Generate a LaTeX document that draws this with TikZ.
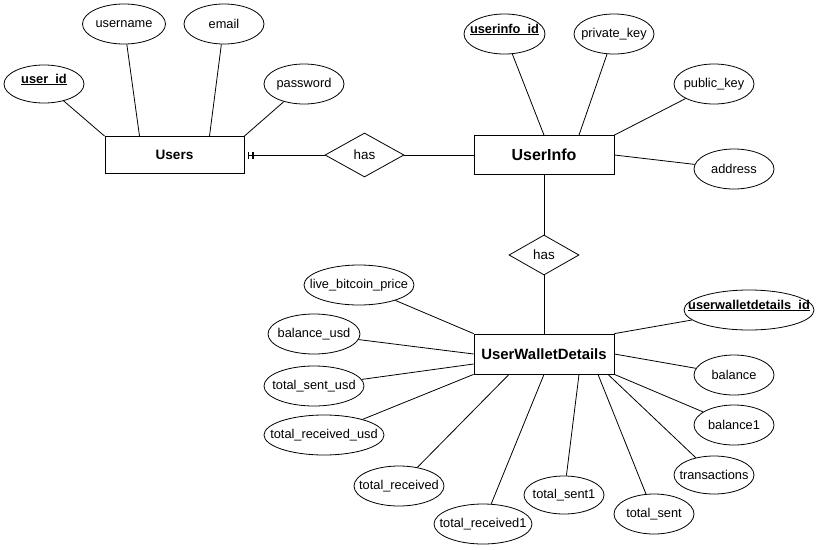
\documentclass[tikz,border=0pt]{standalone}
\usepackage{fontspec}
\setmainfont{Liberation Sans}
\usetikzlibrary{shapes,arrows.meta}

\begin{document}
\begin{tikzpicture}[x=1pt,y=-1pt,line width=0.8pt,
    attr/.style={draw,ellipse,minimum height=40pt,inner sep=0pt,
        font=\fontsize{12.8}{15}\selectfont,
        execute at begin node={\hbox to 0pt\bgroup\hss},
        execute at end node={\hss\egroup}},
    entity/.style={draw,rectangle,minimum width=140pt,minimum height=39pt,inner sep=0pt},
    rel/.style={draw,diamond,inner sep=0pt,font=\fontsize{13.4}{16}\selectfont}]
    \useasboundingbox (0,0) rectangle (819,549);

    % Entities
    \node[entity,minimum width=139pt,minimum height=37pt,font=\bfseries\fontsize{13.6}{16}\selectfont] (users) at (174.5,155) {Users};
    \node[entity,font=\bfseries\fontsize{16}{19}\selectfont] (userinfo) at (544,155) {UserInfo};
    \node[entity,minimum height=40pt,font=\bfseries\fontsize{14.9}{18}\selectfont] (uwd) at (544,354) {UserWalletDetails};

    % Relationships
    \node[rel,minimum width=79pt,minimum height=44pt] (has1) at (364.5,155) {has};
    \node[rel,minimum width=70pt,minimum height=40pt] (has2) at (544,255) {has};

    % Users attributes
    \node[attr,minimum width=80pt,minimum height=38pt] (userid) at (44,84) {\underline{\smash{\textbf{user\_id}}}};
    \node[attr,minimum width=83pt] (username) at (124,24) {username};
    \node[attr,minimum width=80pt] (email) at (224,24) {email};
    \node[attr,minimum width=80pt] (password) at (304,84) {password};

    % UserInfo attributes
    \node[attr,minimum width=81pt] (userinfoid) at (504.5,34) {\underline{\smash{\textbf{userinfo\_id}}}};
    \node[attr,minimum width=80pt] (privatekey) at (614,34) {private\_key};
    \node[attr,minimum width=80pt] (publickey) at (714,84) {public\_key};
    \node[attr,minimum width=80pt] (address) at (734,169) {address};

    % UserWalletDetails attributes
    \node[attr,minimum width=110pt] (livebtc) at (359,285) {live\_bitcoin\_price};
    \node[attr,minimum width=92pt] (balusd) at (314,334) {balance\_usd};
    \node[attr,minimum width=100pt] (sentusd) at (314,386) {total\_sent\_usd};
    \node[attr,minimum width=120pt] (recvusd) at (324,435) {total\_received\_usd};
    \node[attr,minimum width=90pt] (recv) at (399,486) {total\_received};
    \node[attr,minimum width=98pt] (recvone) at (483,524) {total\_received1};
    \node[attr,minimum width=80pt,minimum height=38pt] (sentone) at (564,495) {total\_sent1};
    \node[attr,minimum width=80pt] (sent) at (654,514) {total\_sent};
    \node[attr,minimum width=80pt,minimum height=38pt] (trans) at (714,475) {transactions};
    \node[attr,minimum width=80pt] (balone) at (734,425) {balance1};
    \node[attr,minimum width=80pt] (bal) at (734,375) {balance};
    \node[attr,minimum width=130pt] (uwdid) at (749,310) {\underline{\smash{\textbf{userwalletdetails\_id}}}};

    % Users links
    \draw (userid) -- (users.north west);
    \draw (username) -- ([xshift=-35pt]users.north);
    \draw (email) -- ([xshift=35pt]users.north);
    \draw (password) -- (users.north east);

    % Relationship links
    \draw[{Bar[width=7pt,sep=3.5pt]Bar[width=7pt,sep=3.5pt]Bar[width=7pt]}-] (users) -- (has1);
    \draw (has1) -- (userinfo);
    \draw (userinfo) -- (has2);
    \draw (has2) -- (uwd);

    % UserInfo links
    \draw (userinfoid) -- (userinfo.north);
    \draw (privatekey) -- ([xshift=35pt]userinfo.north);
    \draw (publickey) -- (userinfo.north east);
    \draw (address) -- (userinfo.east);

    % UserWalletDetails links
    \draw (livebtc) -- (uwd.north west);
    \draw (balusd) -- (uwd.west);
    \draw (sentusd) -- ([yshift=-10pt]uwd.west);
    \draw (recvusd) -- (uwd.south west);
    \draw (recv) -- ([xshift=-35pt]uwd.south);
    \draw (recvone) -- (uwd.south);
    \draw (sentone) -- ([xshift=35pt]uwd.south);
    \draw (sent) -- ([xshift=54pt]uwd.south);
    \draw (trans) -- ([xshift=64pt]uwd.south);
    \draw (balone) -- (uwd.south east);
    \draw (bal) -- (uwd.east);
    \draw (uwdid) -- (uwd.north east);
\end{tikzpicture}
\end{document}
